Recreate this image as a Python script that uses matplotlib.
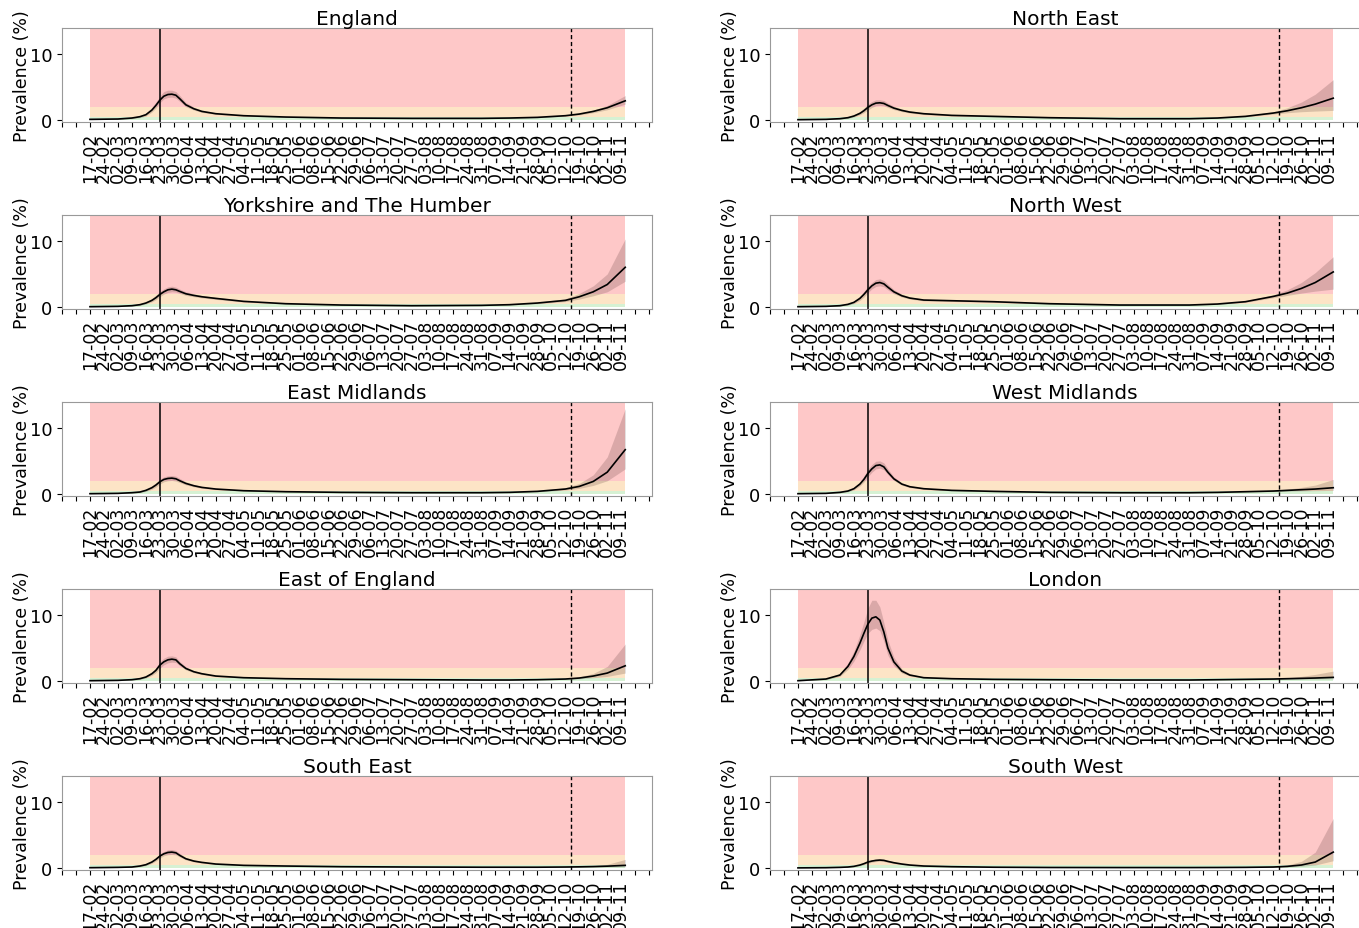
import numpy as np
import matplotlib
matplotlib.use("Agg")
import matplotlib.pyplot as plt

# sample dates (days after 17 Feb 2020)
day_offsets = [0, 14, 21, 25, 28, 31, 33, 35, 37, 39, 41, 43, 45, 48, 52, 56, 63,
               77, 98, 126, 161, 196, 210, 224, 238, 245, 252, 259, 268]
start = np.datetime64("2020-02-17")
dates = start + np.array(day_offsets).astype("timedelta64[D]")

lockdown = np.datetime64("2020-03-23")
cutoff = np.datetime64("2020-10-15")

regions = ["England", "North East", "Yorkshire and The Humber", "North West",
           "East Midlands", "West Midlands", "East of England", "London",
           "South East", "South West"]

# prevalence (%) - median, lower and upper bounds per region
england_mid = [0.1, 0.15, 0.3, 0.5, 0.8, 1.5, 2.2, 3.0, 3.6, 3.85, 3.9, 3.75, 3.2, 2.3, 1.7, 1.3, 0.95, 0.65, 0.45, 0.3, 0.25, 0.25, 0.3, 0.4, 0.65, 0.9, 1.3, 1.85, 2.9]
england_lo = [0.05, 0.1, 0.2, 0.35, 0.6, 1.2, 1.8, 2.6, 3.2, 3.4, 3.45, 3.3, 2.8, 2.0, 1.5, 1.15, 0.85, 0.58, 0.4, 0.26, 0.21, 0.21, 0.26, 0.35, 0.58, 0.78, 1.1, 1.55, 2.4]
england_hi = [0.15, 0.22, 0.42, 0.68, 1.05, 1.9, 2.7, 3.6, 4.3, 4.5, 4.5, 4.3, 3.7, 2.65, 1.95, 1.48, 1.07, 0.73, 0.5, 0.34, 0.29, 0.29, 0.35, 0.46, 0.74, 1.03, 1.5, 2.2, 3.7]

ne_mid = [0.05, 0.1, 0.2, 0.35, 0.6, 1.0, 1.4, 1.9, 2.3, 2.55, 2.6, 2.5, 2.2, 1.8, 1.45, 1.2, 0.95, 0.7, 0.55, 0.35, 0.2, 0.2, 0.3, 0.55, 1.05, 1.4, 1.85, 2.4, 3.3]
ne_lo = [0.02, 0.06, 0.13, 0.24, 0.45, 0.78, 1.1, 1.5, 1.9, 2.15, 2.2, 2.15, 1.9, 1.57, 1.27, 1.05, 0.83, 0.61, 0.48, 0.3, 0.17, 0.17, 0.26, 0.47, 0.9, 1.1, 1.25, 1.35, 1.45]
ne_hi = [0.09, 0.16, 0.3, 0.5, 0.8, 1.3, 1.8, 2.4, 2.8, 3.05, 3.05, 2.95, 2.55, 2.08, 1.67, 1.38, 1.09, 0.8, 0.63, 0.41, 0.24, 0.24, 0.35, 0.64, 1.25, 1.85, 2.7, 3.9, 6.1]

yh_mid = [0.05, 0.1, 0.2, 0.35, 0.6, 1.0, 1.4, 1.9, 2.3, 2.6, 2.7, 2.6, 2.35, 2.0, 1.75, 1.55, 1.3, 0.85, 0.5, 0.3, 0.2, 0.25, 0.35, 0.6, 1.0, 1.55, 2.3, 3.4, 6.0]
yh_lo = [0.02, 0.06, 0.13, 0.24, 0.45, 0.78, 1.1, 1.55, 1.95, 2.2, 2.3, 2.25, 2.05, 1.75, 1.55, 1.38, 1.15, 0.75, 0.44, 0.26, 0.17, 0.21, 0.3, 0.5, 0.82, 1.2, 1.7, 2.3, 3.9]
yh_hi = [0.09, 0.16, 0.3, 0.5, 0.8, 1.3, 1.8, 2.35, 2.75, 3.05, 3.15, 3.0, 2.7, 2.3, 2.0, 1.75, 1.47, 0.96, 0.57, 0.35, 0.24, 0.3, 0.41, 0.72, 1.25, 2.05, 3.2, 5.0, 10.3]

nw_mid = [0.05, 0.1, 0.2, 0.4, 0.7, 1.3, 1.9, 2.6, 3.2, 3.6, 3.7, 3.5, 3.0, 2.3, 1.7, 1.35, 1.05, 0.95, 0.8, 0.5, 0.3, 0.3, 0.45, 0.8, 1.6, 2.1, 2.8, 3.7, 5.3]
nw_lo = [0.02, 0.06, 0.13, 0.28, 0.52, 1.0, 1.5, 2.15, 2.75, 3.1, 3.2, 3.05, 2.6, 2.0, 1.5, 1.2, 0.93, 0.84, 0.7, 0.44, 0.26, 0.26, 0.39, 0.7, 1.4, 1.75, 2.1, 2.4, 2.7]
nw_hi = [0.09, 0.16, 0.3, 0.55, 0.92, 1.65, 2.35, 3.1, 3.7, 4.15, 4.25, 4.0, 3.45, 2.63, 1.95, 1.53, 1.2, 1.08, 0.91, 0.57, 0.35, 0.35, 0.52, 0.92, 1.85, 2.6, 3.7, 5.2, 7.6]

em_mid = [0.05, 0.1, 0.2, 0.3, 0.55, 0.95, 1.35, 1.85, 2.2, 2.35, 2.4, 2.3, 2.0, 1.6, 1.25, 1.0, 0.75, 0.5, 0.35, 0.25, 0.2, 0.2, 0.25, 0.4, 0.75, 1.15, 1.9, 3.3, 6.7]
em_lo = [0.02, 0.06, 0.13, 0.21, 0.4, 0.72, 1.05, 1.5, 1.85, 2.0, 2.05, 1.95, 1.72, 1.38, 1.08, 0.87, 0.66, 0.44, 0.3, 0.21, 0.17, 0.17, 0.21, 0.33, 0.6, 0.85, 1.3, 2.0, 3.8]
em_hi = [0.09, 0.16, 0.3, 0.44, 0.75, 1.25, 1.7, 2.25, 2.6, 2.75, 2.8, 2.7, 2.35, 1.85, 1.45, 1.15, 0.86, 0.57, 0.4, 0.29, 0.24, 0.24, 0.3, 0.48, 0.95, 1.6, 2.9, 5.6, 12.9]

wm_mid = [0.05, 0.1, 0.25, 0.45, 0.8, 1.5, 2.2, 3.1, 3.8, 4.3, 4.4, 4.1, 3.3, 2.3, 1.5, 1.1, 0.8, 0.55, 0.4, 0.25, 0.2, 0.2, 0.25, 0.35, 0.45, 0.55, 0.65, 0.75, 0.95]
wm_lo = [0.02, 0.06, 0.17, 0.33, 0.62, 1.2, 1.8, 2.6, 3.3, 3.8, 3.9, 3.65, 2.95, 2.05, 1.33, 0.97, 0.7, 0.48, 0.35, 0.21, 0.17, 0.17, 0.21, 0.29, 0.37, 0.42, 0.46, 0.5, 0.55]
wm_hi = [0.09, 0.16, 0.35, 0.6, 1.02, 1.85, 2.7, 3.7, 4.45, 4.95, 5.0, 4.7, 3.8, 2.6, 1.7, 1.25, 0.92, 0.63, 0.46, 0.29, 0.24, 0.24, 0.3, 0.42, 0.56, 0.75, 1.0, 1.35, 2.2]

ee_mid = [0.05, 0.1, 0.2, 0.35, 0.6, 1.1, 1.6, 2.4, 2.9, 3.2, 3.3, 3.2, 2.6, 1.9, 1.4, 1.1, 0.75, 0.5, 0.35, 0.25, 0.2, 0.15, 0.15, 0.2, 0.3, 0.45, 0.75, 1.2, 2.3]
ee_lo = [0.02, 0.06, 0.13, 0.24, 0.45, 0.85, 1.25, 1.95, 2.45, 2.75, 2.85, 2.8, 2.3, 1.68, 1.24, 0.97, 0.66, 0.44, 0.3, 0.21, 0.17, 0.12, 0.12, 0.16, 0.24, 0.33, 0.5, 0.7, 1.2]
ee_hi = [0.09, 0.16, 0.3, 0.5, 0.8, 1.4, 2.0, 2.9, 3.45, 3.75, 3.8, 3.65, 2.95, 2.15, 1.58, 1.24, 0.85, 0.57, 0.4, 0.29, 0.24, 0.19, 0.19, 0.25, 0.38, 0.62, 1.15, 2.2, 5.6]

ldn_mid = [0.05, 0.3, 0.9, 2.2, 3.7, 5.7, 7.2, 8.6, 9.5, 9.7, 9.2, 7.4, 5.0, 2.9, 1.5, 0.9, 0.5, 0.35, 0.25, 0.2, 0.15, 0.15, 0.2, 0.25, 0.3, 0.35, 0.4, 0.45, 0.55]
ldn_lo = [0.02, 0.2, 0.7, 1.75, 3.0, 4.7, 6.0, 7.2, 7.8, 8.0, 7.6, 6.0, 3.9, 2.3, 1.2, 0.75, 0.42, 0.29, 0.21, 0.17, 0.12, 0.12, 0.16, 0.2, 0.24, 0.26, 0.28, 0.3, 0.32]
ldn_hi = [0.09, 0.4, 1.15, 2.7, 4.5, 7.0, 8.9, 11.0, 12.2, 12.2, 11.2, 8.8, 6.2, 3.6, 1.85, 1.1, 0.6, 0.42, 0.3, 0.24, 0.18, 0.18, 0.24, 0.31, 0.38, 0.5, 0.7, 1.0, 1.5]

se_mid = [0.05, 0.1, 0.15, 0.3, 0.5, 0.9, 1.3, 1.8, 2.15, 2.35, 2.4, 2.3, 1.9, 1.4, 1.05, 0.85, 0.6, 0.4, 0.3, 0.2, 0.15, 0.12, 0.12, 0.12, 0.15, 0.18, 0.22, 0.28, 0.4]
se_lo = [0.02, 0.06, 0.1, 0.2, 0.36, 0.7, 1.05, 1.5, 1.85, 2.0, 2.05, 1.98, 1.65, 1.22, 0.92, 0.75, 0.53, 0.35, 0.26, 0.17, 0.12, 0.1, 0.1, 0.1, 0.12, 0.13, 0.14, 0.16, 0.18]
se_hi = [0.09, 0.16, 0.22, 0.42, 0.66, 1.12, 1.58, 2.15, 2.5, 2.75, 2.8, 2.65, 2.2, 1.6, 1.2, 0.96, 0.68, 0.45, 0.34, 0.24, 0.18, 0.15, 0.15, 0.15, 0.19, 0.25, 0.35, 0.55, 1.3]

sw_mid = [0.02, 0.05, 0.1, 0.15, 0.25, 0.45, 0.65, 0.9, 1.05, 1.15, 1.2, 1.15, 1.0, 0.8, 0.6, 0.45, 0.3, 0.2, 0.12, 0.08, 0.07, 0.07, 0.08, 0.1, 0.15, 0.25, 0.45, 0.9, 2.4]
sw_lo = [0.01, 0.03, 0.06, 0.1, 0.18, 0.34, 0.5, 0.72, 0.87, 0.97, 1.02, 0.98, 0.85, 0.68, 0.51, 0.38, 0.25, 0.17, 0.1, 0.06, 0.05, 0.05, 0.06, 0.07, 0.1, 0.15, 0.25, 0.45, 1.1]
sw_hi = [0.04, 0.08, 0.15, 0.21, 0.33, 0.57, 0.82, 1.1, 1.25, 1.35, 1.4, 1.33, 1.16, 0.93, 0.7, 0.53, 0.36, 0.24, 0.15, 0.1, 0.09, 0.09, 0.11, 0.14, 0.23, 0.45, 1.0, 2.4, 7.5]

series = {
    "England": (england_mid, england_lo, england_hi),
    "North East": (ne_mid, ne_lo, ne_hi),
    "Yorkshire and The Humber": (yh_mid, yh_lo, yh_hi),
    "North West": (nw_mid, nw_lo, nw_hi),
    "East Midlands": (em_mid, em_lo, em_hi),
    "West Midlands": (wm_mid, wm_lo, wm_hi),
    "East of England": (ee_mid, ee_lo, ee_hi),
    "London": (ldn_mid, ldn_lo, ldn_hi),
    "South East": (se_mid, se_lo, se_hi),
    "South West": (sw_mid, sw_lo, sw_hi),
}

# risk bands (% prevalence)
band_low = 0.5
band_mid = 2.0
y_top = 13.9

fig = plt.figure(figsize=(13.59, 9.29), dpi=100)

col_left = [62 / 1359, 770 / 1359]
ax_w = 590 / 1359
ax_h = 94 / 929
row_bottom = [1 - b / 929 for b in (123, 310, 497, 684, 871)]

tick_dates = start + np.arange(-14, 283, 7).astype("timedelta64[D]")
tick_labels = [d.strftime("%d-%m") if start <= np.datetime64(d) <= dates[-1] else ""
               for d in tick_dates.astype("datetime64[D]").tolist()]

for i, name in enumerate(regions):
    mid, lo, hi = series[name]
    ax = fig.add_axes([col_left[i % 2], row_bottom[i // 2], ax_w, ax_h])

    ax.fill_between(dates, 0, band_low, color="#d6f1d3", lw=0)
    ax.fill_between(dates, band_low, band_mid, color="#fde4c6", lw=0)
    ax.fill_between(dates, band_mid, y_top, color="#fec8c8", lw=0)

    ax.fill_between(dates, lo, hi, color="#3a1a1a", alpha=0.18, lw=0)
    ax.plot(dates, mid, color="black", lw=1.2)

    ax.axvline(lockdown, color="black", lw=1.1)
    ax.axvline(cutoff, color="black", lw=1.0, ls=(0, (3, 2)))

    ax.set_ylim(-0.3, y_top)
    ax.set_yticks([0, 10])
    ax.set_xticks(tick_dates.astype("datetime64[D]").tolist())
    ax.set_xticklabels(tick_labels, rotation=90)
    ax.tick_params(axis="x", labelsize=12.5)
    ax.tick_params(axis="y", labelsize=13)
    ax.set_ylabel("Prevalence (%)", fontsize=12.5)
    ax.yaxis.set_label_coords(-0.053, 0.5)
    ax.set_title(name, fontsize=14.5, pad=3)
    for s in ax.spines.values():
        s.set_color("#999999")

plt.savefig("out.png", dpi=100)
plt.close()
